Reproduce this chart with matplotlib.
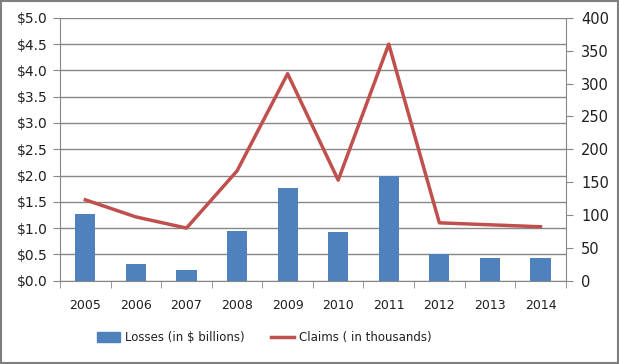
import numpy as np
import matplotlib.pyplot as plt
from matplotlib.patches import Rectangle
from matplotlib.lines import Line2D

years = ["2005", "2006", "2007", "2008", "2009", "2010", "2011", "2012", "2013", "2014"]
losses = [1.27, 0.32, 0.20, 0.94, 1.77, 0.92, 2.00, 0.51, 0.44, 0.44]
claims = [123, 97, 80, 167, 315, 153, 360, 88, 85, 82]

bar_color = "#4F81BD"
line_color = "#C0504D"
grid_color = "#878787"
text_color = "#1F1F1F"

fig = plt.figure(figsize=(6.19, 3.64), dpi=100)
ax = fig.add_axes([0.097, 0.229, 0.817, 0.722])
ax2 = ax.twinx()

x = np.arange(len(years))
ax.bar(x, losses, width=0.4, color=bar_color, zorder=3, label="Losses (in $ billions)")
ax2.plot(x, claims, color=line_color, linewidth=2.5, zorder=4, label="Claims ( in thousands)")

ax.set_xlim(-0.5, len(years) - 0.5)
ax.set_ylim(0, 5.0)
ax2.set_ylim(0, 400)
ax.set_yticks(np.arange(0, 5.01, 0.5))
ax.set_yticklabels([f"${v:.1f}" for v in np.arange(0, 5.01, 0.5)])
ax2.set_yticks(np.arange(0, 401, 50))

ax.set_xticks(x)
ax.set_xticklabels(years)
ax.set_xticks(np.arange(-0.5, len(years), 1), minor=True)
ax.tick_params(axis="x", which="major", length=0, pad=13, labelsize=9, colors=text_color)
ax.tick_params(axis="x", which="minor", length=5, color=grid_color, direction="out")
ax.tick_params(axis="y", length=5, color=grid_color, labelsize=10, colors=text_color, pad=4)
ax2.tick_params(axis="y", length=5, color=grid_color, labelsize=10.5, colors=text_color, pad=6)

ax.grid(axis="y", color=grid_color, linewidth=1, zorder=0)
ax.set_axisbelow(True)

for a in (ax, ax2):
    a.spines["top"].set_visible(False)
    for s in ("left", "right", "bottom"):
        a.spines[s].set_color(grid_color)
ax.spines["right"].set_visible(False)
ax2.spines["left"].set_visible(False)
ax2.spines["bottom"].set_visible(False)

handles = [Rectangle((0, 0), 1, 1, color=bar_color),
           Line2D([0], [0], color=line_color, linewidth=2.5)]
fig.legend(handles, ["Losses (in $ billions)", "Claims ( in thousands)"],
           loc="center", bbox_to_anchor=(0.427, 0.072), ncol=2, frameon=False,
           fontsize=8.5, handlelength=2.0, handleheight=0.9, handletextpad=0.4,
           columnspacing=2.2, labelcolor=text_color)

fig.patches.append(Rectangle((0.001, 0.002), 0.997, 0.995, transform=fig.transFigure,
                             fill=False, edgecolor="#7F7F7F", linewidth=1.5))

fig.savefig("out.png", dpi=100)
